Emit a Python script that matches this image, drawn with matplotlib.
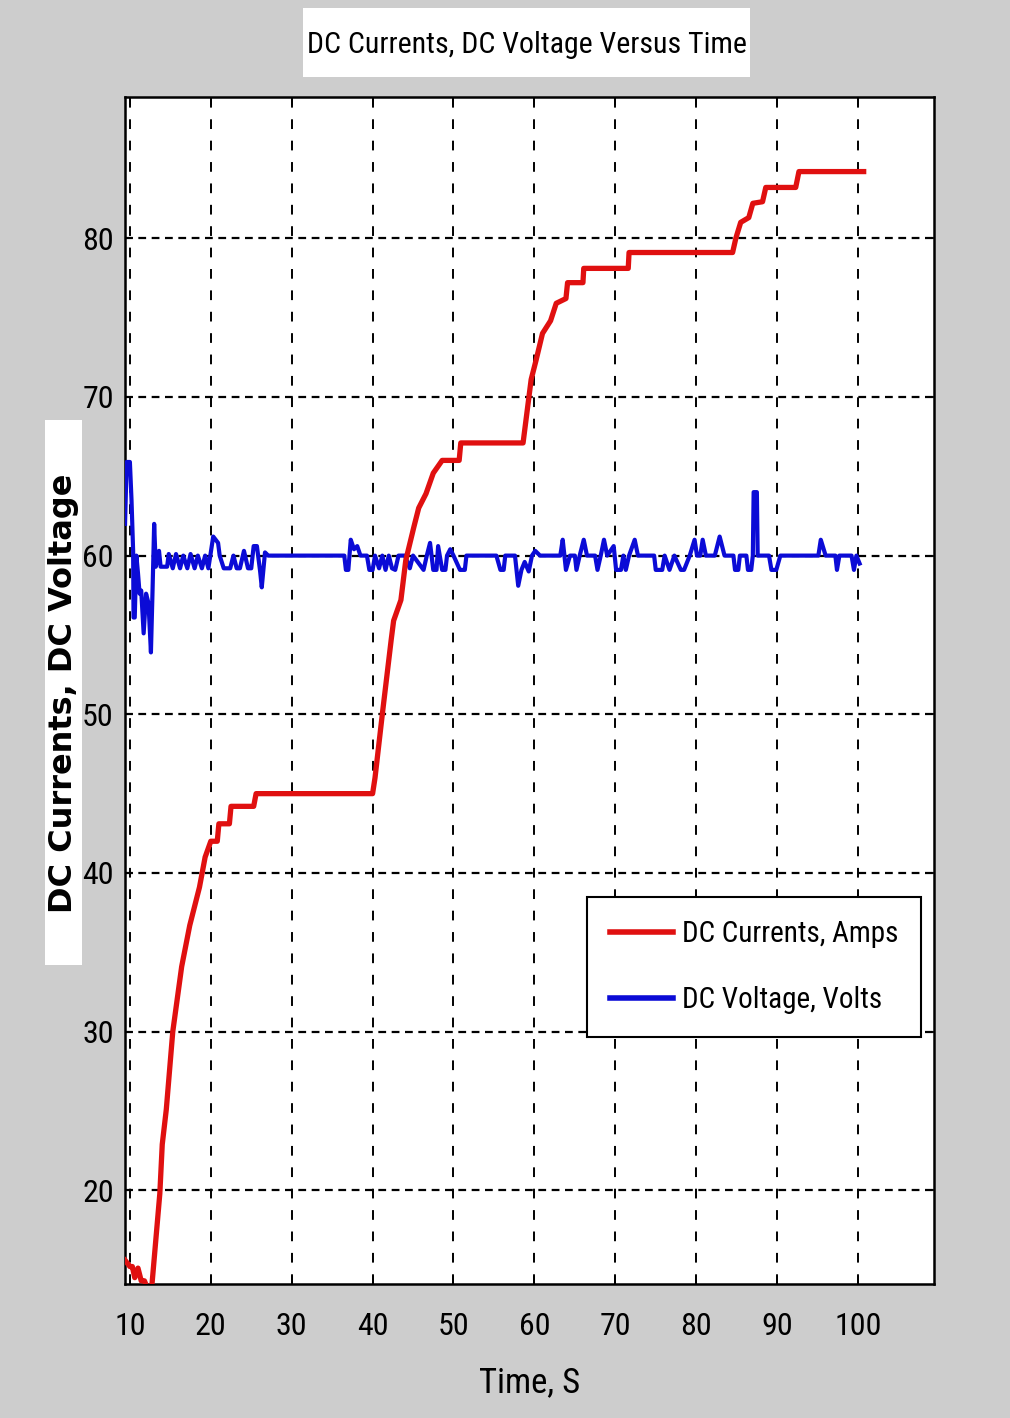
import matplotlib
matplotlib.use("Agg")
import matplotlib.pyplot as plt
from matplotlib import font_manager as fm
from matplotlib.patches import Rectangle

# ---------------- data ----------------
current_t = [9.4, 10.0, 10.3, 10.6, 11.0, 11.4, 11.8, 12.1, 12.7, 13.7, 14.0, 14.5, 15.3,
             16.4, 17.4, 18.6, 19.3, 20.0, 20.8, 21.0, 22.3, 22.5, 25.3, 25.6, 40.0, 40.3,
             41.2, 42.3, 42.6, 43.5, 44.1, 45.1, 45.7, 46.6, 47.5, 48.6, 50.7, 50.9, 58.6,
             59.6, 60.2, 61.0, 62.0, 62.7, 63.9, 64.1, 66.0, 66.1, 71.6, 71.7, 84.5, 84.9,
             85.5, 86.5, 87.0, 88.2, 88.6, 92.3, 92.7, 100.7]
current_v = [15.6, 15.2, 15.2, 14.5, 15.1, 14.3, 14.3, 13.9, 13.9, 19.8, 22.9, 25.1, 30.0,
             34.1, 36.7, 39.1, 41.0, 42.0, 42.0, 43.1, 43.1, 44.2, 44.2, 45.0, 45.0, 46.0,
             50.0, 54.7, 55.9, 57.2, 59.7, 61.8, 63.0, 63.9, 65.2, 66.0, 66.0, 67.1, 67.1,
             71.1, 72.3, 74.0, 74.8, 75.9, 76.2, 77.2, 77.2, 78.1, 78.1, 79.1, 79.1, 80.0,
             81.0, 81.3, 82.2, 82.3, 83.2, 83.2, 84.2, 84.2]

voltage_t = [9.4, 9.6, 10.0, 10.2, 10.4, 10.45, 10.6, 10.8, 11.0, 11.2, 11.4, 11.7, 12.0,
             12.3, 12.6, 12.8, 13.0, 13.2, 13.6, 13.8, 14.6, 14.8, 15.3, 15.7, 16.2, 16.6,
             17.1, 17.5, 18.0, 18.4, 18.9, 19.3, 19.7, 20.3, 20.9, 21.1, 21.6, 22.4, 22.8,
             23.2, 23.6, 24.1, 24.6, 25.0, 25.3, 25.7, 26.1, 26.3, 26.7, 27.1, 36.5, 36.7,
             37.0, 37.3, 37.7, 38.1, 38.5, 39.3, 39.6, 40.0, 40.3, 40.8, 41.2, 41.6, 42.0,
             42.4, 42.8, 43.2, 44.0, 44.6, 45.0, 46.3, 46.7, 47.1, 47.5, 47.9, 48.1, 48.6,
             49.0, 49.2, 49.6, 50.0, 50.8, 51.4, 51.6, 55.3, 55.8, 56.2, 56.4, 57.6, 58.0,
             58.4, 58.8, 59.3, 59.7, 60.1, 60.7, 63.2, 63.5, 63.9, 64.4, 65.0, 65.2, 65.6,
             66.1, 66.5, 67.5, 67.8, 68.2, 68.6, 69.0, 69.8, 70.1, 70.7, 71.0, 71.3, 71.7,
             72.4, 72.8, 74.8, 75.0, 75.8, 76.1, 76.7, 77.3, 78.1, 78.5, 79.2, 79.8, 80.1,
             80.5, 80.8, 81.2, 82.3, 82.9, 83.5, 84.6, 84.8, 85.2, 85.4, 86.2, 86.4, 86.8,
             87.0, 87.1, 87.5, 87.6, 89.0, 89.3, 89.9, 90.4, 95.1, 95.4, 96.0, 97.2, 97.4,
             97.7, 99.2, 99.5, 99.8, 100.2]
voltage_v = [62.0, 65.9, 65.9, 63.5, 60.3, 56.1, 56.1, 60.0, 58.9, 57.6, 57.8, 55.1, 57.6,
             57.0, 53.9, 57.8, 62.0, 59.3, 60.3, 59.3, 59.3, 60.1, 59.2, 60.1, 59.2, 60.0,
             59.2, 60.1, 59.2, 60.0, 59.2, 60.0, 59.2, 61.2, 60.8, 60.0, 59.2, 59.2, 60.0,
             59.2, 59.2, 60.3, 59.2, 59.2, 60.6, 60.6, 59.0, 58.0, 60.2, 60.0, 60.0, 59.1,
             59.1, 61.0, 60.4, 60.6, 60.0, 60.0, 59.1, 59.1, 60.0, 59.2, 60.0, 59.1, 60.0,
             59.2, 59.1, 60.0, 60.0, 59.2, 60.0, 59.1, 60.0, 60.8, 59.1, 59.1, 60.6, 59.1,
             59.1, 60.0, 60.4, 60.0, 59.1, 59.1, 60.0, 60.0, 59.1, 59.1, 60.0, 60.0, 58.1,
             59.1, 59.6, 59.0, 60.0, 60.3, 60.0, 60.0, 61.0, 59.1, 60.0, 60.0, 59.1, 60.0,
             61.0, 60.0, 60.0, 59.1, 60.0, 61.0, 60.0, 60.6, 59.1, 59.1, 60.0, 59.1, 60.0,
             61.0, 60.0, 60.0, 59.1, 59.1, 60.0, 59.1, 60.0, 59.1, 59.1, 60.0, 61.0, 60.0,
             60.0, 61.0, 60.0, 60.0, 61.2, 60.0, 60.0, 59.1, 59.1, 60.0, 60.0, 59.1, 59.1,
             60.0, 64.0, 64.0, 60.0, 60.0, 59.1, 59.1, 60.0, 60.0, 61.0, 60.0, 60.0, 59.1,
             60.0, 60.0, 59.1, 60.0, 59.5]

x_ticks = [10, 20, 30, 40, 50, 60, 70, 80, 90, 100]
y_ticks = [20, 30, 40, 50, 60, 70, 80]

title = "DC Currents, DC Voltage Versus Time"
xlabel = "Time, S"
ylabel = "DC Currents, DC Voltage"
labels = ["DC Currents, Amps", "DC Voltage, Volts"]

# ---------------- fonts ----------------
def find_condensed():
    prefs = ["Liberation Sans Narrow", "Roboto Condensed", "Open Sans Condensed",
             "DejaVu Sans Condensed", "Noto Sans Condensed", "Arial Narrow"]
    cands = []
    for f in fm.fontManager.ttflist:
        fn = f.fname.lower()
        nm = f.name.lower()
        if ("narrow" in fn or "condensed" in fn or "narrow" in nm or "condensed" in nm
                or f.stretch in ("condensed", "semi-condensed", "extra-condensed")):
            if f.style != "normal":
                continue
            if "bold" in fn or "light" in fn or "thin" in fn or "black" in fn:
                continue
            cands.append(f)
    if not cands:
        return None
    def score(f):
        for i, p in enumerate(prefs):
            if p.lower() in f.name.lower() or p.replace(" ", "").lower() in f.fname.lower():
                return i
        return len(prefs)
    cands.sort(key=score)
    return cands[0].fname

cond = find_condensed()
if cond:
    def fp(size):
        return fm.FontProperties(fname=cond, size=size)
    TS = 22
else:
    def fp(size):
        return fm.FontProperties(family="Liberation Sans", size=size)
    TS = 18

BG = "#cdcdcd"
fig = plt.figure(figsize=(10.1, 14.18), dpi=100, facecolor=BG)
ax = fig.add_axes([0.1238, 0.0945, 0.8010, 0.8371])
ax.set_facecolor("white")

ax.plot(current_t, current_v, color="#e01010", lw=3.8, label=labels[0], zorder=4)
ax.plot(voltage_t, voltage_v, color="#0b0bd6", lw=3.0, label=labels[1], zorder=3)

ax.set_xlim(9.4, 109.4)
ax.set_ylim(14.1, 88.9)
ax.set_xticks(x_ticks)
ax.set_yticks(y_ticks)

ax.xaxis.grid(True, color="black", lw=1.4, linestyle=(0, (5, 6)))
ax.yaxis.grid(True, color="black", lw=1.6, linestyle=(0, (3.5, 2.5)))
ax.set_axisbelow(True)

for s in ax.spines.values():
    s.set_linewidth(1.8)
    s.set_color("black")

ax.tick_params(direction="in", length=6, width=1.2, top=True, right=True,
               pad=20, colors="black")
ax.tick_params(axis="y", pad=8)
for lab in ax.get_xticklabels() + ax.get_yticklabels():
    lab.set_fontproperties(fp(TS + 1))

ax.set_xlabel(xlabel, fontproperties=fp(TS + 3), labelpad=18)

# y label in a white box
fig.patches.append(Rectangle((0.0446, 0.3195), 0.0367, 0.3843, transform=fig.transFigure,
                             facecolor="white", edgecolor="none", zorder=0))
fig.text(0.0624, 0.511, ylabel, rotation=90, ha="center", va="center",
         fontsize=23, fontweight="bold", family="DejaVu Sans")

# title in a white box
fig.patches.append(Rectangle((0.300, 0.9457), 0.4426, 0.0487, transform=fig.transFigure,
                             facecolor="white", edgecolor="none", zorder=0))
fig.text(0.5213, 0.968, title, ha="center", va="center", fontproperties=fp(TS - 0.5))

leg = ax.legend(loc="lower left", bbox_to_anchor=(0.571, 0.208), borderaxespad=0,
                prop=fp(TS - 1), fancybox=False,
                edgecolor="black", framealpha=1, handlelength=2.15, handletextpad=0.3,
                borderpad=0.8, labelspacing=1.3)
leg.get_frame().set_linewidth(1.5)
leg.set_zorder(10)
for h in leg.get_lines():
    h.set_linewidth(4)

fig.savefig("out.png", dpi=100, facecolor=BG)
